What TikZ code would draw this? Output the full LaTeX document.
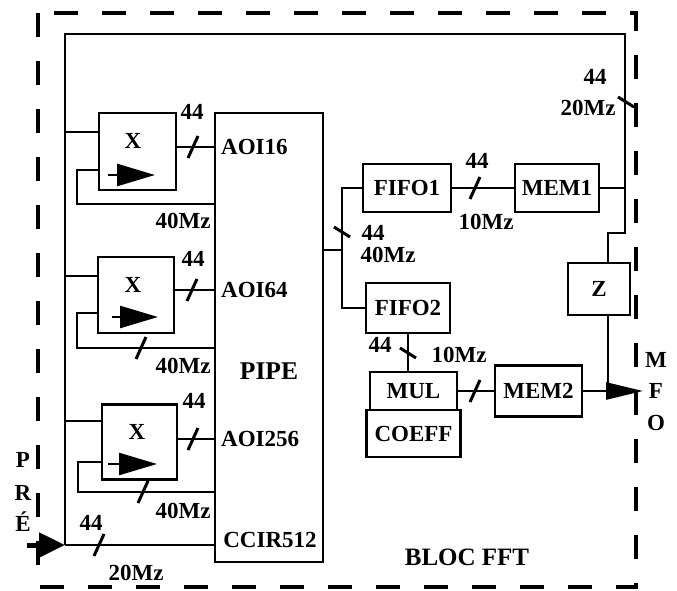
\documentclass[tikz,border=0pt]{standalone}
\usepackage{fontspec}
\setmainfont{Liberation Serif}
\usetikzlibrary{arrows.meta,calc}
\newcommand\txt{\fontsize{23}{26}\selectfont\bfseries}
\begin{document}
\begin{tikzpicture}[x=1pt,y=-1pt,
  box/.style={draw, line width=2.6pt, inner sep=0pt, outer sep=0pt, font=\txt},
  lab/.style={inner sep=0pt, font=\txt},
  wire/.style={line width=2.6pt},
  tick/.style={line width=3pt},
  frame/.style={line width=3.2pt, dash pattern=on 24pt off 24pt}]
\useasboundingbox (0,0) rectangle (677,590);
% frame
\draw[frame] (38,13) rectangle (636,587);
% boxes
\node[box, minimum width=77pt, minimum height=77pt] (X1) at (137.5,151.5) {};
\node[box, minimum width=76pt, minimum height=76pt] (X2) at (136,295) {};
\node[box, minimum width=75pt, minimum height=75pt] (X3) at (139.5,442) {};
\node[box, minimum width=108pt, minimum height=449pt] (PIPE) at (269,337.5) {};
\node[box, minimum width=88pt, minimum height=48pt] (FIFO1) at (407,188) {FIFO1};
\node[box, minimum width=84pt, minimum height=48pt] (MEM1) at (557,188) {MEM1};
\node[box, minimum width=84pt, minimum height=50pt] (FIFO2) at (408,308) {FIFO2};
\node[box, minimum width=62pt, minimum height=52pt] (Z) at (599,289) {Z};
\node[box, minimum width=87pt, minimum height=38pt] (MUL) at (413.5,391) {MUL};
\node[box, minimum width=94pt, minimum height=47pt, anchor=north] (COEFF) at (MUL.south) {COEFF};
\node[box, minimum width=87pt, minimum height=51pt] (MEM2) at (538.5,391) {MEM2};
% texts
\node[lab] (tx1) at (133,141) {X};
\node[lab] (tx2) at (133,285) {X};
\node[lab] (tx3) at (137,432) {X};
\node[lab, font=\fontsize{25.5}{28}\selectfont\bfseries] (tpipe) at (269,371) {PIPE};
\node[lab, anchor=west] (ta16) at (221,147) {AOI16};
\node[lab, anchor=west] (ta64) at (221,290) {AOI64};
\node[lab, anchor=west] (ta256) at (221,439) {AOI256};
\node[lab] (tccir) at (270,540) {CCIR512};
\node[lab] (t44a) at (192,112) {44};
\node[lab] (t44b) at (193,259) {44};
\node[lab] (t44c) at (194,401) {44};
\node[lab] (t40a) at (183,221) {40Mz};
\node[lab] (t40b) at (183,366) {40Mz};
\node[lab] (t40c) at (183,511) {40Mz};
\node[lab] (t44d) at (91,523) {44};
\node[lab] (t20a) at (136,573) {20Mz};
\node[lab, anchor=base] (tP) at (23,467) {P};
\node[lab, anchor=base] (tR) at (23,500) {R};
\node[lab, anchor=base] (tE) at (23,531) {É};
\node[lab] (t44e) at (595,77) {44};
\node[lab] (t20b) at (588,108) {20Mz};
\node[lab] (t44f) at (477,161) {44};
\node[lab] (t10a) at (486,222) {10Mz};
\node[lab] (t44g) at (373,233) {44};
\node[lab] (t40d) at (388,255) {40Mz};
\node[lab] (t44h) at (380,345) {44};
\node[lab] (t10b) at (459,355) {10Mz};
\node[lab, anchor=base] (tM) at (656,367) {M};
\node[lab, anchor=base] (tF) at (656,398) {F};
\node[lab, anchor=base] (tO) at (656,430) {O};
\node[lab, font=\fontsize{25}{28}\selectfont\bfseries] (tbloc) at (467,557) {BLOC FFT};
% coordinates
\coordinate (bTL) at (65,34);
\coordinate (bTR) at (625,34);
\coordinate (bJog) at (625,233);
\coordinate (bBL) at (65,545);
\coordinate (inS) at (27,545);
\coordinate (split) at (342,250);
\coordinate (outE) at (643,391);
\coordinate (zx) at (608,0);
\coordinate (x1in) at (65,132);
\coordinate (x2in) at (65,276);
\coordinate (x3in) at (65,421);
\coordinate (x1o) at (0,147);
\coordinate (x2o) at (0,290);
\coordinate (x3o) at (0,439);
\coordinate (f1) at (77,170);  \coordinate (f1b) at (77,204);
\coordinate (f2) at (77,313);  \coordinate (f2b) at (77,348);
\coordinate (f3) at (78,462);  \coordinate (f3b) at (78,492);
% bus
\draw[wire] (bBL) -- (bTL) -- (bTR) -- (bJog) -- (bJog -| zx) -- (zx |- Z.north);
\draw[wire] (MEM1.east) -- (MEM1.east -| bTR);
% X inputs
\draw[wire] (x1in) -- (x1in -| X1.west);
\draw[wire] (x2in) -- (x2in -| X2.west);
\draw[wire] (x3in) -- (x3in -| X3.west);
% X outputs
\draw[wire] (X1.east |- x1o) -- (PIPE.west |- x1o);
\draw[wire] (X2.east |- x2o) -- (PIPE.west |- x2o);
\draw[wire] (X3.east |- x3o) -- (PIPE.west |- x3o);
% feedback
\draw[wire] (f1 -| X1.west) -- (f1) -- (f1b) -- (f1b -| PIPE.west);
\draw[wire] (f2 -| X2.west) -- (f2) -- (f2b) -- (f2b -| PIPE.west);
\draw[wire] (f3 -| X3.west) -- (f3) -- (f3b) -- (f3b -| PIPE.west);
% clock arrows in X boxes
\coordinate (a1s) at (108,175); \coordinate (a1e) at (155,175);
\coordinate (a2s) at (112,317); \coordinate (a2e) at (158,317);
\coordinate (a3s) at (108,464); \coordinate (a3e) at (157,464);
\draw[wire,-{Triangle[length=38pt,width=22pt]}] (a1s) -- (a1e);
\draw[wire,-{Triangle[length=38pt,width=22pt]}] (a2s) -- (a2e);
\draw[wire,-{Triangle[length=38pt,width=22pt]}] (a3s) -- (a3e);
% input
\draw[line width=5pt,-{Triangle[length=26pt,width=24pt]}] (inS) -- (bBL);
\draw[wire] (bBL) -- (bBL -| PIPE.west);
% right side
\draw[wire] (PIPE.east |- split) -- (split);
\draw[wire] (split) |- (FIFO1.west);
\draw[wire] (split) |- (FIFO2.west);
\draw[wire] (FIFO1) -- (MEM1);
\draw[wire] (FIFO2.south) -- (FIFO2.south |- MUL.north);
\draw[wire] (MUL.east) -- (MUL.east -| MEM2.west);
\draw[wire,-{Triangle[length=37pt,width=17pt]}] (MEM2.east) -- (outE);
\draw[wire] (zx |- Z.south) -- (zx |- outE);
% slashes
\foreach \p in {{193,147},{192,290},{193,439},{141,348},{143,492},{99,545},{475,188},{475,391}}{
  \coordinate (s) at (\p);
  \draw[tick] ($(s)+(-5,11)$) -- ($(s)+(5,-11)$);
}
\foreach \p in {{626,102},{342,232},{408,353}}{
  \coordinate (s) at (\p);
  \draw[tick] ($(s)+(-8,-5)$) -- ($(s)+(8,5)$);
}
\end{tikzpicture}
\end{document}
